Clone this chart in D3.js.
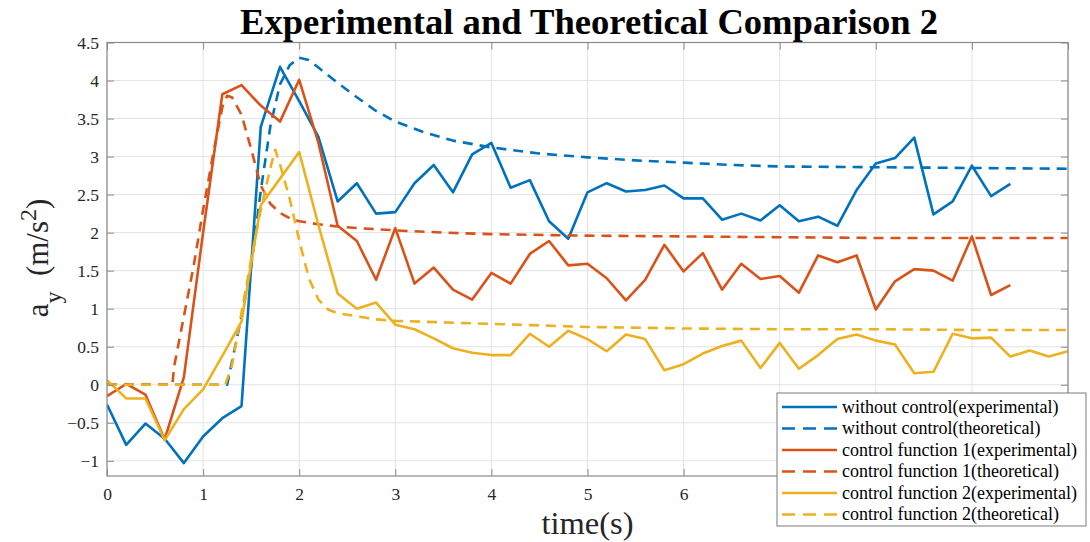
<!DOCTYPE html>
<html>
<head>
<meta charset="utf-8">
<script src="https://cdn.jsdelivr.net/npm/d3@7"></script>
<style>
  html, body { margin: 0; padding: 0; background: #fff; }
  svg { display: block; }
  text { font-family: "Liberation Serif", "Times New Roman", serif; }
</style>
</head>
<body>
<svg id="chart" width="1090" height="542"></svg>
<script>
const SERIF = "'Liberation Serif', 'Times New Roman', serif";

// Sample times of the measured runs (0.2 s step)
const tExp = d3.range(0, 48).map(i => +(i * 0.2).toFixed(1)); // 0 .. 9.4
const tExpLong = d3.range(0, 51).map(i => +(i * 0.2).toFixed(1)); // 0 .. 10

// Without control — experimental
const noCtrlExp = [-0.26, -0.79, -0.51, -0.71, -1.03, -0.68, -0.44, -0.28, 3.39, 4.18,
  3.73, 3.26, 2.41, 2.65, 2.25, 2.27, 2.65, 2.89, 2.53, 3.03,
  3.18, 2.59, 2.69, 2.15, 1.92, 2.53, 2.65, 2.54, 2.56, 2.62,
  2.45, 2.45, 2.17, 2.25, 2.16, 2.36, 2.15, 2.21, 2.09, 2.56,
  2.91, 2.98, 3.25, 2.24, 2.41, 2.88, 2.48, 2.64];

// Control function 1 — experimental
const ctrl1Exp = [-0.15, 0.01, -0.13, -0.72, 0.10, 2.0, 3.82, 3.94, 3.67, 3.46,
  4.01, 3.18, 2.09, 1.89, 1.38, 2.06, 1.33, 1.54, 1.25, 1.12,
  1.47, 1.33, 1.72, 1.89, 1.57, 1.59, 1.40, 1.11, 1.38, 1.84,
  1.49, 1.73, 1.25, 1.59, 1.39, 1.43, 1.21, 1.70, 1.61, 1.70,
  0.99, 1.36, 1.52, 1.50, 1.37, 1.95, 1.18, 1.31];

// Control function 2 — experimental
const ctrl2Exp = [0.06, -0.18, -0.18, -0.73, -0.32, -0.06, 0.38, 0.83, 2.36, 2.71,
  3.06, 2.10, 1.20, 1.00, 1.08, 0.79, 0.73, 0.61, 0.48, 0.42,
  0.39, 0.39, 0.67, 0.50, 0.71, 0.60, 0.44, 0.66, 0.60, 0.19,
  0.27, 0.41, 0.51, 0.58, 0.22, 0.55, 0.21, 0.39, 0.60, 0.66,
  0.58, 0.53, 0.15, 0.17, 0.67, 0.61, 0.62, 0.37, 0.45, 0.37,
  0.44];

// Without control — theoretical
const noCtrlThT = [0, 1.25, 1.3, 1.4, 1.5, 1.6, 1.7, 1.8, 1.9, 2.0, 2.1, 2.2, 2.4, 2.6, 2.8, 3.0,
  3.3, 3.6, 4.0, 4.5, 5.0, 5.5, 6.0, 6.5, 7.0, 8.0, 9.0, 10.0];
const noCtrlTh = [0, 0, 0.3, 0.9, 1.55, 2.55, 3.4, 3.95, 4.2, 4.3, 4.27, 4.17, 3.97, 3.78, 3.6, 3.46,
  3.32, 3.21, 3.12, 3.04, 2.99, 2.95, 2.92, 2.89, 2.87, 2.86, 2.85, 2.84];

// Control function 1 — theoretical
const ctrl1ThT = [0, 0.68, 0.7, 0.8, 0.9, 1.0, 1.1, 1.2, 1.25, 1.3, 1.4, 1.5, 1.6, 1.7, 1.8, 1.9,
  2.0, 2.2, 2.4, 2.6, 3.0, 3.5, 4.0, 5.0, 6.0, 7.0, 8.0, 9.0, 10.0];
const ctrl1Th = [0, 0, 0.25, 0.9, 1.55, 2.3, 3.0, 3.65, 3.8, 3.78, 3.55, 3.1, 2.62, 2.38, 2.26, 2.19,
  2.15, 2.11, 2.08, 2.06, 2.03, 2.0, 1.98, 1.96, 1.95, 1.94, 1.93, 1.93, 1.93];

// Control function 2 — theoretical
const ctrl2ThT = [0, 1.23, 1.3, 1.4, 1.5, 1.6, 1.7, 1.75, 1.8, 1.9, 2.0, 2.1, 2.2, 2.3, 2.4, 2.6,
  2.8, 3.0, 3.5, 4.0, 5.0, 6.0, 7.0, 8.0, 9.0, 10.0];
const ctrl2Th = [0, 0, 0.25, 0.95, 1.65, 2.3, 2.85, 3.09, 2.9, 2.45, 1.9, 1.4, 1.12, 0.99, 0.94, 0.9,
  0.86, 0.84, 0.82, 0.8, 0.76, 0.74, 0.73, 0.73, 0.72, 0.72];

// Axis ticks (labels from 7 on sit under the legend box)
const xTicks = d3.range(0, 11);
const xTickLabels = ["0", "1", "2", "3", "4", "5", "6", "", "", "", ""];
const yTicks = [-1, -0.5, 0, 0.5, 1, 1.5, 2, 2.5, 3, 3.5, 4, 4.5];

const colors = { blue: "#0072BD", orange: "#D95319", yellow: "#EDB120" };

const series = [
  { name: "without control(experimental)", t: tExp, v: noCtrlExp, color: colors.blue, dashed: false },
  { name: "without control(theoretical)", t: noCtrlThT, v: noCtrlTh, color: colors.blue, dashed: true },
  { name: "control function 1(experimental)", t: tExp, v: ctrl1Exp, color: colors.orange, dashed: false },
  { name: "control function 1(theoretical)", t: ctrl1ThT, v: ctrl1Th, color: colors.orange, dashed: true },
  { name: "control function 2(experimental)", t: tExpLong, v: ctrl2Exp, color: colors.yellow, dashed: false },
  { name: "control function 2(theoretical)", t: ctrl2ThT, v: ctrl2Th, color: colors.yellow, dashed: true }
];

const svg = d3.select("#chart");
const plot = { left: 107, right: 1068, top: 42.5, bottom: 476 };

const x = d3.scaleLinear().domain([0, 10]).range([plot.left, plot.right]);
const y = d3.scaleLinear().domain([-1.2, 4.5]).range([plot.bottom, plot.top]);

// Grid
const grid = svg.append("g").attr("stroke", "#e3e3e3").attr("stroke-width", 1);
xTicks.forEach(t => grid.append("line")
  .attr("x1", x(t)).attr("x2", x(t)).attr("y1", plot.top).attr("y2", plot.bottom));
yTicks.forEach(v => grid.append("line")
  .attr("x1", plot.left).attr("x2", plot.right).attr("y1", y(v)).attr("y2", y(v)));

// Data lines
svg.append("clipPath").attr("id", "plotclip").append("rect")
  .attr("x", plot.left).attr("y", plot.top)
  .attr("width", plot.right - plot.left).attr("height", plot.bottom - plot.top);

const line = d3.line().x(d => x(d[0])).y(d => y(d[1]));
const lines = svg.append("g").attr("clip-path", "url(#plotclip)");
series.forEach(s => {
  lines.append("path")
    .datum(s.t.map((t, i) => [t, s.v[i]]))
    .attr("d", line)
    .attr("fill", "none")
    .attr("stroke", s.color)
    .attr("stroke-width", 2.6)
    .attr("stroke-linejoin", "round")
    .attr("stroke-dasharray", s.dashed ? "10,7" : null);
});

// Axes: bottom/left with labels, top/right tick marks only, ticks inward
const axisColor = "#8a8a8a";
const tickLen = 7;
const xAxisB = d3.axisBottom(x).tickValues(xTicks).tickSizeInner(-tickLen).tickSizeOuter(0)
  .tickPadding(12).tickFormat((d, i) => xTickLabels[i]);
const xAxisT = d3.axisTop(x).tickValues(xTicks).tickSizeInner(-tickLen).tickSizeOuter(0).tickFormat("");
const yAxisL = d3.axisLeft(y).tickValues(yTicks).tickSizeInner(-tickLen).tickSizeOuter(0)
  .tickPadding(8).tickFormat(d3.format("~g"));
const yAxisR = d3.axisRight(y).tickValues(yTicks).tickSizeInner(-tickLen).tickSizeOuter(0).tickFormat("");

function styleAxis(g) {
  g.attr("font-family", SERIF);
  g.select(".domain").remove();
  g.selectAll(".tick line").attr("stroke", axisColor).attr("stroke-width", 1);
  g.selectAll(".tick text").attr("fill", "#262626")
    .style("font-family", SERIF).style("font-size", "17.5px");
}
svg.append("g").attr("transform", `translate(0,${plot.bottom})`).call(xAxisB).call(styleAxis);
svg.append("g").attr("transform", `translate(0,${plot.top})`).call(xAxisT).call(styleAxis);
svg.append("g").attr("transform", `translate(${plot.left},0)`).call(yAxisL).call(styleAxis);
svg.append("g").attr("transform", `translate(${plot.right},0)`).call(yAxisR).call(styleAxis);

// Axes box
svg.append("rect")
  .attr("x", plot.left).attr("y", plot.top)
  .attr("width", plot.right - plot.left).attr("height", plot.bottom - plot.top)
  .attr("fill", "none").attr("stroke", axisColor).attr("stroke-width", 1.2);

// Title
svg.append("text")
  .attr("x", 589).attr("y", 33.5)
  .attr("text-anchor", "middle")
  .attr("textLength", 698).attr("lengthAdjust", "spacingAndGlyphs")
  .style("font-family", SERIF).style("font-size", "35px").style("font-weight", "bold")
  .attr("fill", "#000")
  .text("Experimental and Theoretical Comparison 2");

// X label
svg.append("text")
  .attr("x", 587.5).attr("y", 533.5)
  .attr("text-anchor", "middle")
  .attr("textLength", 92).attr("lengthAdjust", "spacingAndGlyphs")
  .style("font-family", SERIF).style("font-size", "31px")
  .attr("fill", "#262626")
  .text("time(s)");

// Y label: a_y (m/s^2)
const yl = svg.append("text")
  .attr("transform", "translate(48,258) rotate(-90)")
  .attr("text-anchor", "middle")
  .style("font-family", SERIF).style("font-size", "31px").attr("fill", "#262626");
yl.append("tspan").text("a");
yl.append("tspan").attr("dy", 13).style("font-size", "24px").text("y");
yl.append("tspan").attr("dy", -13).text("\u00a0\u00a0(m/s");
yl.append("tspan").attr("dy", -12).style("font-size", "24px").text("2");
yl.append("tspan").attr("dy", 12).text(")");

// Legend
const lg = { x: 777, y: 393, w: 309, h: 133 };
const legend = svg.append("g");
legend.append("rect")
  .attr("x", lg.x).attr("y", lg.y).attr("width", lg.w).attr("height", lg.h)
  .attr("fill", "#fff").attr("stroke", "#7a7a7a").attr("stroke-width", 1);
series.forEach((s, i) => {
  const cy = lg.y + 14 + i * 21.5;
  legend.append("line")
    .attr("x1", lg.x + 5).attr("x2", lg.x + 60).attr("y1", cy).attr("y2", cy)
    .attr("stroke", s.color).attr("stroke-width", 2.6)
    .attr("stroke-dasharray", s.dashed ? "13,8" : null);
  legend.append("text")
    .attr("x", lg.x + 65).attr("y", cy + 5.5)
    .style("font-family", SERIF).style("font-size", "18px")
    .attr("fill", "#000")
    .text(s.name);
});
</script>
</body>
</html>
